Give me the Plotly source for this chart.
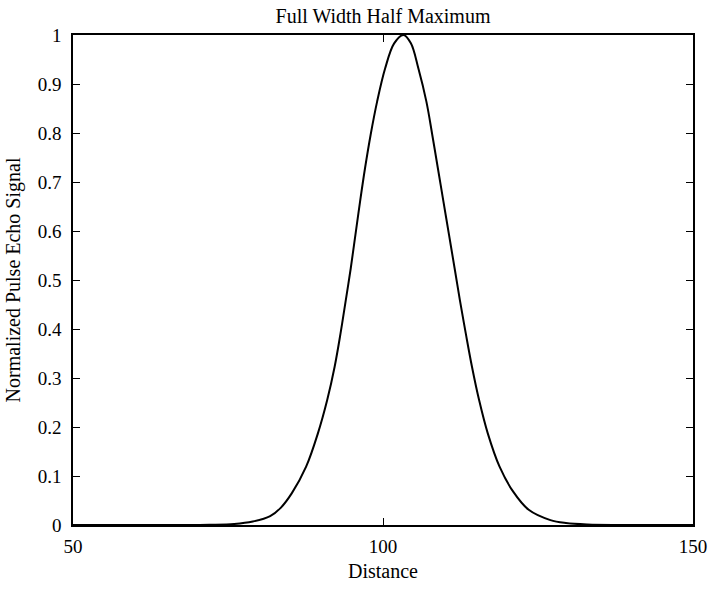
import plotly.graph_objects as go

# Curve points
distance = [50, 60, 68, 72, 76, 79, 81.8, 83.5, 85.3, 87.6, 89.5, 91.0, 92.2, 93.15, 94.0, 94.8,
            95.55, 96.3, 97.1, 98.0, 99.05, 100.35, 101.8, 103.3, 104.5, 105.7, 107.0, 107.95,
            108.85, 109.75, 110.65, 111.55, 112.4, 113.35, 114.35, 115.5, 116.9, 118.8, 121.0,
            123.5, 127.0, 129.5, 133, 138, 150]
signal = [0, 0, 0, 0.0005, 0.002, 0.007, 0.018, 0.035, 0.065, 0.119, 0.187, 0.255, 0.323,
          0.391, 0.459, 0.524, 0.592, 0.660, 0.728, 0.796, 0.864, 0.932, 0.983, 1.0, 0.983,
          0.932, 0.864, 0.796, 0.728, 0.660, 0.592, 0.524, 0.459, 0.391, 0.323, 0.255, 0.187,
          0.119, 0.068, 0.031, 0.010, 0.004, 0.001, 0, 0]

x_ticks = [50, 100, 150]
x_labels = ["50", "100", "150"]
y_ticks = [0, 0.1, 0.2, 0.3, 0.4, 0.5, 0.6, 0.7, 0.8, 0.9, 1.0]
y_labels = ["0", "0.1", "0.2", "0.3", "0.4", "0.5", "0.6", "0.7", "0.8", "0.9", "1"]

FONT = "Liberation Serif"
TICK_SIZE = 19
TITLE_SIZE = 20

fig = go.Figure()
fig.add_trace(go.Scatter(x=distance, y=signal, mode="lines",
                         line=dict(color="black", width=2, shape="spline", smoothing=1.0),
                         showlegend=False, hoverinfo="skip"))

axis_common = dict(showline=True, linecolor="black", linewidth=1.5, mirror="ticks",
                   ticks="inside", ticklen=7, tickwidth=1, tickcolor="black",
                   showgrid=False, zeroline=False, automargin=False,
                   tickfont=dict(family=FONT, size=TICK_SIZE, color="black"))

fig.update_xaxes(range=[50, 150], tickvals=x_ticks, ticktext=x_labels,
                 ticklabelstandoff=3,
                 title=dict(text="Distance",
                            font=dict(family=FONT, size=TITLE_SIZE, color="black"),
                            standoff=8),
                 **axis_common)
fig.update_yaxes(range=[0, 1], tickvals=y_ticks, ticktext=y_labels,
                 ticklabelstandoff=6,
                 title=dict(text="Normalized Pulse Echo Signal",
                            font=dict(family=FONT, size=TITLE_SIZE, color="black"),
                            standoff=12),
                 **axis_common)

fig.update_layout(
    width=709, height=589,
    margin=dict(l=73, r=16, t=35, b=64),
    plot_bgcolor="white", paper_bgcolor="white",
    title=dict(text="Full Width Half Maximum", xref="paper", x=0.5, xanchor="center",
               yref="container", y=1 - 16 / 589, yanchor="middle",
               font=dict(family=FONT, size=TITLE_SIZE, color="black")),
)

fig.write_html("out.html", config={"displayModeBar": False},
               post_script="document.body.style.margin='0';document.body.style.overflow='hidden';")
